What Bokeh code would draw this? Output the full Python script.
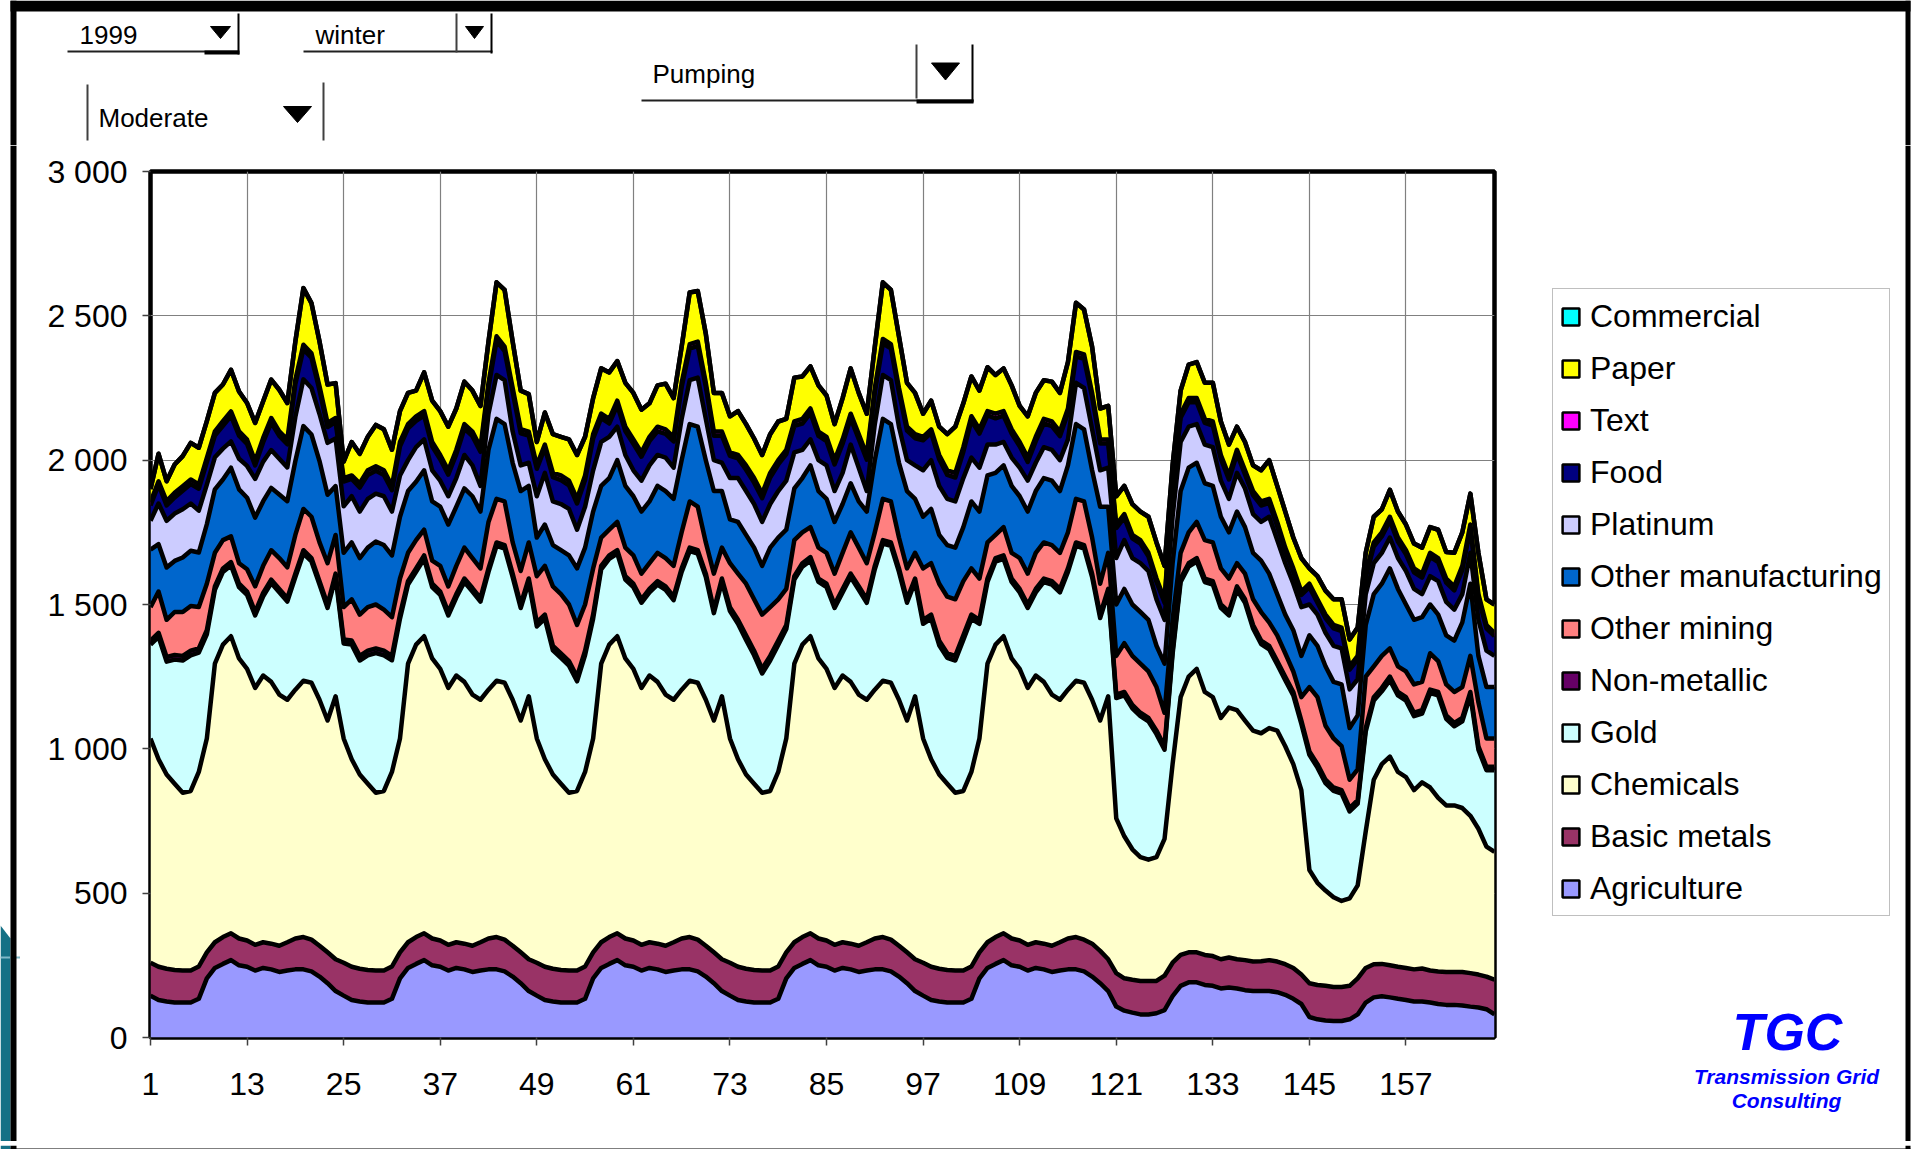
import numpy as np
from bokeh.plotting import figure
from bokeh.layouts import column, row
from bokeh.models import (Range1d, FixedTicker, Legend, LegendItem, Label, ColumnDataSource)
from bokeh.embed import file_html
from bokeh.resources import INLINE

# ---------------- data (hour 1..168, one list per day) -------------
hours = list(range(1, 169))
x_ticks = [1, 13, 25, 37, 49, 61, 73, 85, 97, 109, 121, 133, 145, 157]
y_ticks = [0, 500, 1000, 1500, 2000, 2500, 3000]
y_tick_labels = ["0", "500", "1 000", "1 500", "2 000", "2 500", "3 000"]

series_names = ["Agriculture", "Basic metals", "Chemicals", "Gold", "Non-metallic",
                "Other mining", "Other manufacturing", "Platinum", "Food", "Text",
                "Paper", "Commercial"]
series_colors = ["#9999FF", "#993366", "#FFFFCC", "#CCFFFF", "#660066", "#FF8080",
                 "#0066CC", "#CCCCFF", "#000080", "#FF00FF", "#FFFF00", "#00FFFF"]

# stacked tops (cumulative)
agriculture_top_days = [
    [145,130,125,121,121,121,134,205,241,255,268,250,245,232,241,236,227,232,236,236,229,211,188,161],
    [145,130,125,121,121,121,134,205,241,255,268,250,245,232,241,236,227,232,236,236,229,211,188,161],
    [145,130,125,121,121,121,134,205,241,255,268,250,245,232,241,236,227,232,236,236,229,211,188,161],
    [145,130,125,121,121,121,134,205,241,255,268,250,245,232,241,236,227,232,236,236,229,211,188,161],
    [145,130,125,121,121,121,134,205,241,255,268,250,245,232,241,236,227,232,236,236,229,211,188,161],
    [107,93,86,80,80,84,95,143,179,191,191,182,179,170,173,170,164,161,161,161,157,148,134,116],
    [71,63,59,57,57,63,80,121,139,143,139,134,130,125,125,121,116,113,113,111,107,104,98,80],
]
basic_metals_top_days = [
    [259,245,238,234,232,232,246,295,330,348,361,343,336,321,330,325,318,330,343,348,339,318,295,271],
    [259,245,238,234,232,232,246,295,330,348,361,343,336,321,330,325,318,330,343,348,339,318,295,271],
    [259,245,238,234,232,232,246,295,330,348,361,343,336,321,330,325,318,330,343,348,339,318,295,271],
    [259,245,238,234,232,232,246,295,330,348,361,343,336,321,330,325,318,330,343,348,339,318,295,271],
    [259,245,238,234,232,232,246,295,330,348,361,343,336,321,330,325,318,330,343,348,339,325,300,271],
    [223,205,200,196,196,196,214,259,286,295,295,286,282,271,277,271,268,263,264,268,263,254,241,218],
    [188,182,179,175,175,179,205,241,254,255,250,245,241,236,239,232,229,227,227,227,223,218,211,200],
]
chemicals_top_days = [
    [1036,964,911,879,848,854,920,1036,1295,1361,1390,1313,1277,1211,1254,1232,1188,1170,1205,1236,1229,1170,1098,1182],
    [1036,964,911,879,848,854,920,1036,1295,1361,1390,1313,1277,1211,1254,1232,1188,1170,1205,1236,1229,1170,1098,1182],
    [1036,964,911,879,848,854,920,1036,1295,1361,1390,1313,1277,1211,1254,1232,1188,1170,1205,1236,1229,1170,1098,1182],
    [1036,964,911,879,848,854,920,1036,1295,1361,1390,1313,1277,1211,1254,1232,1188,1170,1205,1236,1229,1170,1098,1182],
    [1036,964,911,879,848,854,920,1036,1295,1361,1390,1313,1277,1211,1254,1232,1188,1170,1205,1236,1229,1170,1098,1182],
    [759,697,652,625,616,625,688,947,1179,1250,1277,1197,1179,1107,1143,1134,1098,1063,1054,1072,1063,1009,947,857],
    [580,536,509,486,473,482,527,714,893,947,973,920,902,857,884,866,830,804,804,795,768,723,661,643],
]
non_metallic_top_days = [
    [1375,1402,1318,1325,1322,1340,1348,1411,1563,1625,1647,1572,1545,1474,1540,1586,1554,1522,1607,1688,1661,1581,1500,1607],
    [1379,1375,1322,1340,1348,1340,1322,1465,1581,1625,1670,1572,1545,1474,1536,1590,1557,1522,1625,1715,1706,1607,1500,1590],
    [1438,1465,1357,1331,1304,1250,1340,1465,1634,1670,1688,1598,1572,1518,1554,1581,1563,1527,1625,1697,1688,1607,1482,1590],
    [1491,1447,1393,1340,1277,1322,1375,1429,1598,1643,1664,1590,1572,1500,1554,1607,1563,1518,1634,1723,1715,1625,1518,1590],
    [1447,1465,1375,1331,1322,1393,1465,1447,1590,1661,1670,1590,1554,1500,1554,1590,1581,1554,1625,1715,1706,1607,1465,1554],
    [1188,1197,1152,1125,1107,1063,1009,1340,1590,1643,1661,1590,1581,1500,1474,1563,1518,1429,1375,1357,1304,1250,1197,1098],
    [991,947,893,866,857,795,822,1072,1179,1211,1250,1197,1179,1125,1134,1205,1197,1116,1090,1107,1197,1009,938,938],
]
other_mining_top_days = [
    [1491,1545,1447,1474,1474,1495,1491,1572,1679,1723,1736,1643,1622,1563,1634,1688,1661,1629,1741,1831,1804,1715,1643,1741],
    [1491,1518,1465,1491,1500,1482,1456,1590,1679,1723,1759,1652,1634,1563,1634,1697,1661,1625,1786,1866,1857,1715,1616,1715],
    [1598,1634,1563,1536,1500,1429,1500,1625,1732,1759,1786,1697,1670,1607,1643,1679,1661,1634,1750,1857,1839,1715,1607,1697],
    [1643,1607,1572,1518,1465,1491,1518,1554,1723,1750,1768,1697,1679,1607,1679,1750,1697,1643,1750,1866,1857,1732,1625,1679],
    [1625,1643,1572,1527,1518,1581,1625,1590,1715,1741,1768,1679,1661,1607,1679,1715,1706,1679,1750,1866,1857,1732,1572,1679],
    [1322,1366,1322,1295,1268,1214,1125,1447,1679,1750,1786,1723,1715,1625,1590,1643,1607,1518,1474,1438,1393,1331,1268,1179],
    [1214,1179,1080,1036,1009,893,929,1250,1286,1322,1348,1286,1268,1223,1232,1331,1304,1223,1197,1214,1322,1161,1036,1036],
]
other_manufacturing_top_days = [
    [1690,1709,1628,1651,1663,1686,1680,1778,1899,1933,1974,1899,1870,1801,1858,1904,1881,1858,1997,2118,2089,1997,1880,1910],
    [1679,1715,1661,1697,1718,1706,1670,1804,1893,1925,1965,1857,1839,1777,1839,1902,1875,1822,2036,2143,2125,1991,1893,1911],
    [1732,1777,1706,1688,1670,1625,1697,1822,1911,1938,2000,1911,1875,1822,1857,1911,1893,1866,2000,2125,2116,2000,1893,1893],
    [1795,1786,1741,1697,1634,1697,1732,1759,1902,1938,1982,1893,1866,1786,1848,1920,1857,1822,2000,2143,2125,1991,1893,1866],
    [1804,1831,1741,1706,1697,1768,1857,1822,1947,1956,1982,1911,1875,1822,1893,1938,1929,1893,1982,2125,2107,1965,1839,1839],
    [1500,1554,1500,1474,1447,1357,1295,1643,1893,1974,1991,1920,1911,1804,1750,1822,1768,1679,1652,1607,1536,1465,1411,1322],
    [1393,1357,1286,1232,1223,1072,1116,1429,1536,1572,1625,1554,1500,1447,1456,1500,1465,1393,1375,1438,1572,1322,1214,1214],
]
platinum_top_days = [
    [1790,1850,1790,1815,1830,1850,1825,1915,2010,2040,2065,2005,1980,1935,1995,2035,2005,1975,2150,2280,2250,2160,2060,2075],
    [1840,1875,1822,1866,1884,1875,1822,1947,2000,2045,2072,1965,1929,1875,1938,2018,1982,1911,2161,2295,2277,2099,1982,1991],
    [1875,1956,1857,1848,1831,1759,1839,1965,2063,2081,2116,2018,1965,1929,1982,2018,2009,1974,2143,2277,2286,2143,2000,1991],
    [1938,1938,1893,1848,1786,1848,1893,1929,2027,2036,2072,2000,1982,1893,1956,2054,1974,1893,2125,2295,2277,2116,2000,1982],
    [1965,2000,1911,1866,1857,1938,2009,1974,2054,2054,2063,2009,1974,1929,1991,2045,2036,2000,2072,2268,2250,2107,1965,1974],
    [1661,1723,1661,1643,1616,1518,1447,1804,2063,2116,2125,2054,2045,1929,1866,1956,1902,1813,1786,1804,1723,1643,1572,1491],
    [1500,1465,1402,1357,1348,1206,1241,1536,1643,1679,1732,1661,1616,1554,1536,1598,1581,1509,1482,1536,1679,1447,1340,1322],
]
text_top_days = [
    [1855,1927,1858,1887,1910,1933,1916,2008,2100,2135,2169,2100,2071,1997,2077,2146,2100,2071,2279,2400,2370,2256,2129,2146],
    [1938,1947,1920,1965,1979,1965,1911,2063,2125,2152,2170,2063,2018,1965,2036,2125,2099,2045,2268,2429,2393,2250,2107,2099],
    [1982,2054,1956,1947,1929,1866,1947,2090,2161,2143,2206,2116,2072,2027,2081,2116,2107,2081,2268,2402,2411,2268,2099,2099],
    [2027,2018,1982,1938,1884,1956,2000,2036,2134,2143,2179,2099,2081,2000,2072,2161,2090,2018,2250,2420,2402,2250,2116,2090],
    [2081,2107,2018,1965,1956,2045,2152,2107,2170,2161,2170,2107,2063,2009,2081,2143,2134,2099,2179,2375,2366,2233,2072,2072],
    [1777,1813,1741,1723,1679,1590,1518,1911,2161,2215,2215,2143,2134,2018,1947,2036,1965,1893,1857,1866,1786,1697,1625,1545],
    [1572,1518,1465,1429,1420,1286,1322,1607,1715,1750,1804,1732,1688,1625,1607,1679,1661,1590,1563,1634,1777,1536,1429,1402],
]
paper_top_days = [
    [1900,2022,1927,1985,2014,2060,2043,2135,2233,2262,2313,2238,2198,2129,2204,2279,2244,2198,2411,2596,2544,2411,2262,2267],
    [1995,2063,2022,2081,2122,2107,2036,2170,2233,2241,2304,2206,2170,2116,2179,2272,2241,2188,2411,2616,2590,2411,2241,2229],
    [2063,2165,2090,2081,2072,2018,2081,2215,2318,2304,2343,2268,2233,2175,2197,2259,2265,2215,2393,2581,2586,2438,2233,2233],
    [2152,2170,2125,2075,2018,2090,2134,2143,2286,2290,2325,2259,2224,2125,2215,2318,2233,2161,2393,2616,2590,2429,2268,2233],
    [2161,2206,2116,2090,2116,2197,2290,2241,2322,2295,2318,2259,2188,2152,2233,2277,2272,2233,2340,2545,2522,2393,2179,2188],
    [1875,1911,1848,1822,1804,1715,1634,1982,2241,2331,2340,2268,2268,2134,2054,2116,2063,1982,1965,2000,1911,1822,1732,1661],
    [1625,1598,1548,1518,1518,1379,1420,1679,1804,1830,1897,1822,1777,1711,1697,1768,1759,1682,1679,1750,1884,1679,1518,1500],
]
# thin layers, read as values
non_metallic_days = [
    [14,14,16,16,16,16,15,14,12,12,12,12,12,12,12,12,12,12,12,12,12,12,12,12],
    [14,14,16,16,16,16,15,14,12,12,12,12,12,12,12,12,12,12,12,12,12,12,12,12],
    [14,14,16,16,16,16,15,14,12,12,12,12,12,12,12,12,12,12,12,12,12,12,12,12],
    [14,14,16,16,16,16,15,14,12,12,12,12,12,12,12,12,12,12,12,12,12,12,12,12],
    [14,14,16,16,16,16,15,14,12,12,12,12,12,12,12,12,12,12,12,12,12,12,12,12],
    [12,12,12,12,12,12,12,12,12,12,12,12,12,12,12,12,12,12,12,12,12,12,12,12],
    [12,12,12,12,12,12,12,12,12,12,12,12,12,12,12,12,12,12,12,12,12,12,12,12],
]
text_days = [
    [12,12,15,16,16,16,15,15,15,16,16,15,15,15,15,16,16,16,15,16,15,14,14,14],
    [12,12,15,16,16,16,15,15,15,16,16,15,15,15,15,16,16,16,15,16,15,14,14,14],
    [12,12,15,16,16,16,15,15,15,16,16,15,15,15,15,16,16,16,15,16,15,14,14,14],
    [12,12,15,16,16,16,15,15,15,16,16,15,15,15,15,16,16,16,15,16,15,14,14,14],
    [12,12,15,16,16,16,15,15,15,16,16,15,15,15,15,16,16,16,15,16,15,14,14,14],
    [12,12,12,12,12,12,12,12,14,14,14,14,14,14,14,14,14,14,14,14,14,12,12,12],
    [12,12,12,12,12,12,12,12,14,14,14,14,14,14,14,14,14,14,14,14,14,12,12,12],
]
commercial = [0] * 168   # not visible in the chart

# ---------------- derive the stacked series -------------------------------------------
def flat(days):
    return np.array(sum(days, []), dtype=float)

A = flat(agriculture_top_days); B = flat(basic_metals_top_days); C = flat(chemicals_top_days)
NM = flat(non_metallic_top_days); OM = flat(other_mining_top_days)
MF = flat(other_manufacturing_top_days); P = flat(platinum_top_days)
T = flat(text_top_days); PA = flat(paper_top_days)
nm = flat(non_metallic_days); tx = flat(text_days)

vals = [A, B - A, C - B, NM - nm - C, nm, OM - NM, MF - OM, P - MF, T - tx - P, tx, PA - T,
        np.array(commercial, dtype=float)]
vals = [np.clip(v, 0, None) for v in vals]
keys = ["s%d" % i for i in range(len(vals))]
src = ColumnDataSource(dict(x=hours, **{k: v for k, v in zip(keys, vals)}))

# ---------------- page geometry (pixels) -----------------------------------------------
PAGE_W, PAGE_H = 1915, 1149
TOP_H = 145            # controls strip
BOT_H = 8              # bottom border strip
MID_H = PAGE_H - TOP_H - BOT_H
LEFT_W = 20
CHART_W = 1480
RIGHT_W = PAGE_W - LEFT_W - CHART_W
FONT = "Liberation Sans"


def deco_fig(x0, x1, y0, y1):
    f = figure(width=x1 - x0, height=y1 - y0, x_range=Range1d(x0, x1),
               y_range=Range1d(y1, y0), output_backend="svg", toolbar_location=None,
               x_axis_location=None, y_axis_location=None,
               min_border=0, min_border_left=0, min_border_right=0,
               min_border_top=0, min_border_bottom=0)
    f.xgrid.visible = False
    f.ygrid.visible = False
    f.outline_line_color = None
    f.background_fill_color = "white"
    f.border_fill_color = "white"
    return f


def rect(f, x0, y0, x1, y1, color="black"):
    f.quad(left=[x0], right=[x1], top=[y0], bottom=[y1], fill_color=color, line_color=None)


def tri(f, cx, cy, w, h):
    f.patch([cx - w / 2, cx + w / 2, cx], [cy - h / 2, cy - h / 2, cy + h / 2],
            fill_color="black", line_color="black", line_width=1)


def label(f, X, Y, s, size="26px", color="black", style="normal", align="left"):
    f.add_layout(Label(x=X, y=Y, text=s, text_font=FONT, text_font_size=size,
                       text_color=color, text_font_style=style, text_align=align,
                       text_baseline="middle"))


# ---------------- top strip: drop-down controls -----------------------------------------
top = deco_fig(0, PAGE_W, 0, TOP_H)
rect(top, 10, 0, 1910, 11)
rect(top, 10, 0, 16, TOP_H)
rect(top, 1905, 0, 1910, TOP_H)

label(top, 79, 34, "1999")
rect(top, 67, 50, 238, 52, "#202020"); rect(top, 204, 50, 239, 54); rect(top, 237, 13, 239, 54)
tri(top, 220, 32, 20, 12)

label(top, 315, 34, "winter")
rect(top, 303, 50, 492, 52, "#202020"); rect(top, 455, 13, 457, 52, "#404040")
rect(top, 490, 13, 492, 53)
tri(top, 474, 32, 18, 12)

label(top, 98, 117, "Moderate")
rect(top, 86, 84, 88, 140, "#404040"); rect(top, 322, 82, 324, 140, "#404040")
tri(top, 297, 114, 28, 16)

label(top, 652, 73, "Pumping")
rect(top, 641, 99, 973, 101, "#202020"); rect(top, 915, 44, 917, 98, "#404040")
rect(top, 971, 44, 973, 102); rect(top, 916, 99, 973, 103)
tri(top, 945, 71, 28, 17)

# ---------------- left strip -----------------------------------------------------------
left = deco_fig(0, LEFT_W, TOP_H, TOP_H + MID_H)
left.patch([0, 10, 10, 0], [925, 938, TOP_H + MID_H, TOP_H + MID_H],
           fill_color="#137085", line_color=None)
rect(left, 0, 956, LEFT_W, 958, "#7fb8c8")
rect(left, 10, TOP_H, 16, TOP_H + MID_H)

# ---------------- chart ----------------------------------------------------------------
p = figure(width=CHART_W, height=MID_H, x_range=Range1d(1, 168), y_range=Range1d(0, 3000),
           output_backend="svg", toolbar_location=None,
           min_border_left=130, min_border_right=6, min_border_top=26,
           min_border_bottom=MID_H - 26 - 866)
p.background_fill_color = "white"
p.border_fill_color = "white"
p.outline_line_color = "black"
p.outline_line_width = 4.5

p.varea_stack(stackers=keys, x="x", color=series_colors, source=src)
cum = np.cumsum(np.vstack(vals), axis=0)
for top_row in cum:
    p.line(hours, top_row, line_color="black", line_width=4.5, line_join="round")

p.xaxis.ticker = FixedTicker(ticks=x_ticks)
p.yaxis.ticker = FixedTicker(ticks=y_ticks)
p.yaxis.major_label_overrides = {t: l for t, l in zip(y_ticks, y_tick_labels)}
for ax in (p.xaxis[0], p.yaxis[0]):
    ax.axis_line_color = None
    ax.major_tick_line_color = "#404040"
    ax.major_tick_line_width = 1.5
    ax.major_tick_out = 8
    ax.major_tick_in = 0
    ax.minor_tick_line_color = None
    ax.major_label_text_font = FONT
    ax.major_label_text_font_size = "32px"
    ax.major_label_text_color = "black"
p.yaxis.major_label_standoff = 15
p.xaxis.major_label_standoff = 27
p.xgrid.grid_line_color = "#808080"
p.ygrid.grid_line_color = "#808080"
p.xgrid.grid_line_width = 1.2
p.ygrid.grid_line_width = 1.2

# ---------------- right strip: legend + logo -------------------------------------------
x0r = LEFT_W + CHART_W
right = deco_fig(x0r, PAGE_W, TOP_H, TOP_H + MID_H)
rect(right, 1905, TOP_H, 1910, TOP_H + MID_H)
items = []
for name, col in zip(series_names, series_colors):
    # legend swatch carriers, kept outside the visible range
    r = right.quad(left=[-1000], right=[-999], top=[-1000], bottom=[-999], fill_color=col,
                   line_color="black", line_width=2.5)
    items.append(LegendItem(label=name, renderers=[r]))
legend = Legend(items=items[::-1], location=(1552 - x0r, TOP_H + MID_H - 916),
                orientation="vertical",
                border_line_color="#808080", border_line_width=1.5,
                background_fill_color="white", background_fill_alpha=1.0,
                label_text_font=FONT, label_text_font_size="32px",
                label_text_color="black",
                glyph_width=21, glyph_height=21, label_standoff=9, spacing=12,
                padding=7, margin=0, label_height=40)
right.add_layout(legend)
label(right, 1787, 1031, "TGC", size="52px", color="#0000FF", style="bold italic", align="center")
label(right, 1786, 1076, "Transmission Grid", size="21px", color="#0000FF",
      style="bold italic", align="center")
label(right, 1786, 1100, "Consulting", size="21px", color="#0000FF", style="bold italic",
      align="center")

# ---------------- bottom strip ---------------------------------------------------------
bottom = deco_fig(0, PAGE_W, PAGE_H - BOT_H, PAGE_H)
bottom.patch([0, 10, 10, 0], [PAGE_H - BOT_H, PAGE_H - BOT_H, PAGE_H, PAGE_H],
             fill_color="#137085", line_color=None)
rect(bottom, 10, 1144, 1910, PAGE_H)
rect(bottom, 10, PAGE_H - BOT_H, 16, PAGE_H)
rect(bottom, 1905, PAGE_H - BOT_H, 1910, PAGE_H)

layout = column(top, row(column(left), column(p), column(right)), bottom)
open("out.html", "w").write(file_html(layout, INLINE))
